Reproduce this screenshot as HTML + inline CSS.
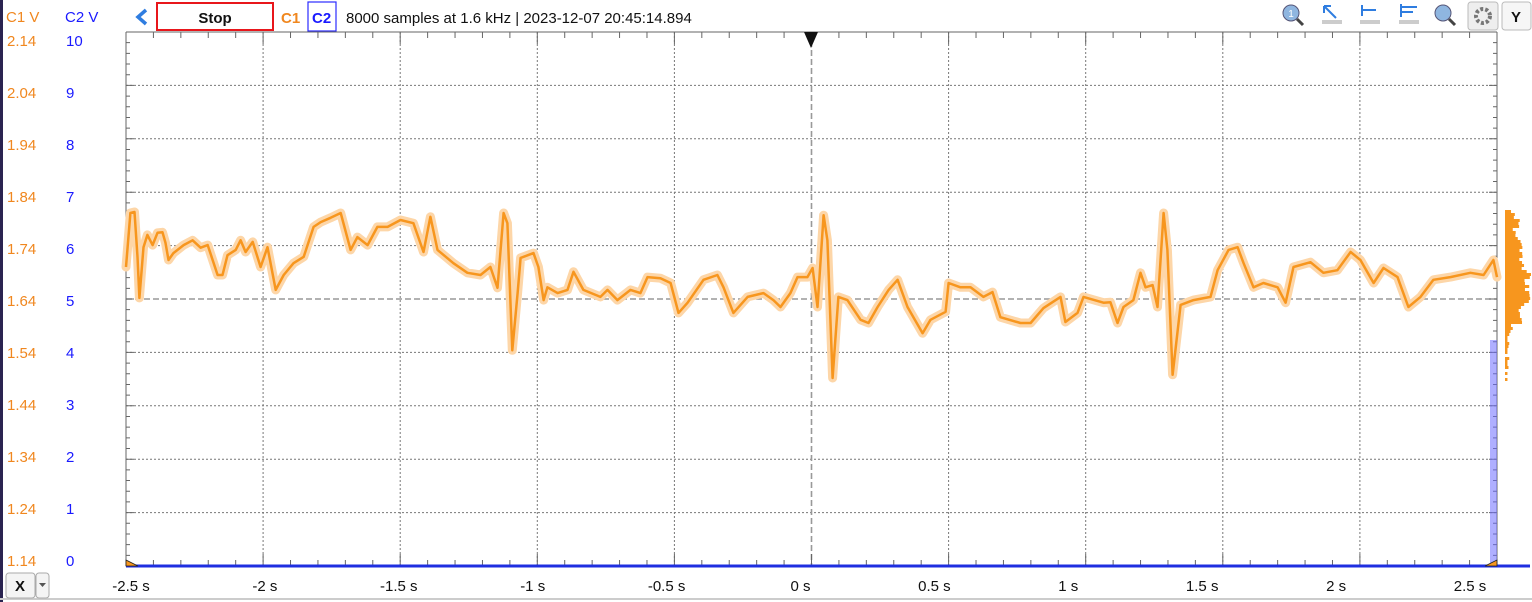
<!DOCTYPE html>
<html><head><meta charset="utf-8">
<style>
html,body{margin:0;padding:0;background:#fff;width:1532px;height:602px;overflow:hidden;font-family:"Liberation Sans",sans-serif}
svg{display:block}
</style></head>
<body>
<svg id="chart" width="1532" height="602" viewBox="0 0 1532 602">
  <rect x="0" y="0" width="1532" height="602" fill="#fff"/>
  <rect x="0" y="0" width="3" height="602" fill="#2a2350"/>
  <line x1="0" y1="599" x2="1532" y2="599" stroke="#ccc" stroke-width="2"/>
  <g>
    <text x="6" y="22" font-size="15" fill="#f0871f">C1 V</text>
    <text x="65" y="22" font-size="15" fill="#1a1aff">C2 V</text>
    <path d="M146 10 L138 17 L146 24" fill="none" stroke="#2f7de0" stroke-width="3.5"/>
    <rect x="157" y="3" width="116" height="27" fill="#fff" stroke="#e8161b" stroke-width="2"/>
    <text x="215" y="23" font-size="15" font-weight="bold" text-anchor="middle" fill="#111">Stop</text>
    <text x="281" y="23" font-size="15" font-weight="bold" fill="#f0871f">C1</text>
    <rect x="308" y="2" width="28" height="29" fill="#fff" stroke="#2b2bff" stroke-width="1.2"/>
    <text x="312" y="23" font-size="15" font-weight="bold" fill="#1a1aff">C2</text>
    <text x="346" y="23" font-size="15" fill="#111">8000 samples at 1.6 kHz | 2023-12-07 20:45:14.894</text>
    <g><circle cx="1291" cy="13" r="8" fill="#8fb6e0" stroke="#557" stroke-width="1"/><line x1="1297" y1="19" x2="1303" y2="25" stroke="#444" stroke-width="3"/><text x="1291" y="17" font-size="10" text-anchor="middle" fill="#fff">1</text></g>
    <g><path d="M1324 6 L1336 18 M1324 6 L1324 13 M1324 6 L1331 6" stroke="#2f7de0" stroke-width="2" fill="none"/><rect x="1322" y="20" width="20" height="4" fill="#ccc"/></g>
    <g><path d="M1362 5 L1362 16 M1362 10 L1376 10" stroke="#2f7de0" stroke-width="2" fill="none"/><rect x="1360" y="20" width="20" height="4" fill="#ccc"/></g>
    <g><path d="M1401 4 L1401 17 M1401 7 L1417 7 M1401 12 L1413 12" stroke="#2f7de0" stroke-width="2" fill="none"/><rect x="1399" y="20" width="20" height="4" fill="#ccc"/></g>
    <g><circle cx="1443" cy="13" r="8" fill="#8fb6e0" stroke="#557" stroke-width="1"/><line x1="1449" y1="19" x2="1455" y2="25" stroke="#444" stroke-width="3"/></g>
    <rect x="1468" y="2" width="30" height="28" rx="3" fill="#eee" stroke="#bbb"/>
    <circle cx="1483" cy="16" r="7" fill="none" stroke="#777" stroke-width="4" stroke-dasharray="3 2"/>
    <rect x="1502" y="2" width="29" height="28" rx="3" fill="#f6f6f6" stroke="#bbb"/>
    <text x="1516" y="22" font-size="15" font-weight="bold" text-anchor="middle" fill="#111">Y</text>
  </g>
  <g id="grid"></g>
  <g id="axes"></g>
  <g id="series"></g>
  <g id="hist"></g>
  <path d="M804 32 L818 32 L811 48 Z" fill="#111"/>
  <g>
    <rect x="6" y="573" width="29" height="25" rx="3" fill="#f4f4f4" stroke="#aaa"/>
    <text x="20" y="591" font-size="15" font-weight="bold" text-anchor="middle" fill="#111">X</text>
    <rect x="36" y="573" width="13" height="25" rx="3" fill="#f4f4f4" stroke="#aaa"/>
    <path d="M39 583 L46 583 L42.5 587 Z" fill="#555"/>
  </g>
</svg>
<script>
const xTicks = [-2.5,-2,-1.5,-1,-0.5,0,0.5,1,1.5,2,2.5];
const xTickLabels = ["-2.5 s","-2 s","-1.5 s","-1 s","-0.5 s","0 s","0.5 s","1 s","1.5 s","2 s","2.5 s"];
const c1Labels = ["2.14","2.04","1.94","1.84","1.74","1.64","1.54","1.44","1.34","1.24","1.14"];
const c2Labels = ["10","9","8","7","6","5","4","3","2","1","0"];
const c1Times = [-2.5,-2.484,-2.469,-2.458,-2.451,-2.436,-2.422,-2.403,-2.385,-2.367,-2.356,-2.345,-2.327,-2.29,-2.257,-2.228,-2.202,-2.166,-2.148,-2.13,-2.1,-2.082,-2.064,-2.038,-2.009,-1.984,-1.954,-1.925,-1.889,-1.852,-1.816,-1.79,-1.754,-1.717,-1.681,-1.656,-1.619,-1.583,-1.546,-1.499,-1.452,-1.415,-1.39,-1.364,-1.306,-1.255,-1.207,-1.171,-1.145,-1.123,-1.109,-1.091,-1.072,-1.061,-1.014,-0.996,-0.977,-0.963,-0.926,-0.89,-0.868,-0.832,-0.77,-0.744,-0.708,-0.66,-0.624,-0.598,-0.551,-0.514,-0.485,-0.452,-0.394,-0.343,-0.321,-0.285,-0.233,-0.175,-0.139,-0.113,-0.077,-0.051,-0.015,0.004,0.022,0.044,0.058,0.077,0.098,0.131,0.179,0.208,0.241,0.281,0.314,0.35,0.405,0.434,0.489,0.5,0.543,0.58,0.627,0.66,0.689,0.762,0.799,0.846,0.908,0.926,0.97,0.992,1.065,1.09,1.116,1.138,1.174,1.2,1.218,1.244,1.262,1.284,1.298,1.317,1.346,1.393,1.455,1.481,1.521,1.554,1.576,1.612,1.648,1.7,1.729,1.758,1.82,1.867,1.918,1.966,2.002,2.05,2.086,2.137,2.177,2.221,2.268,2.33,2.403,2.451,2.487,2.5];
const c1Volts = [1.700,1.801,1.803,1.719,1.642,1.737,1.760,1.741,1.764,1.765,1.745,1.713,1.726,1.741,1.750,1.736,1.741,1.685,1.685,1.722,1.732,1.750,1.728,1.747,1.700,1.737,1.657,1.685,1.707,1.719,1.775,1.784,1.792,1.801,1.732,1.756,1.741,1.775,1.775,1.788,1.782,1.728,1.794,1.732,1.707,1.689,1.685,1.700,1.661,1.801,1.782,1.544,1.651,1.717,1.726,1.700,1.638,1.662,1.651,1.657,1.691,1.657,1.644,1.657,1.638,1.657,1.651,1.681,1.679,1.670,1.614,1.633,1.676,1.685,1.662,1.614,1.644,1.651,1.638,1.625,1.651,1.681,1.681,1.698,1.625,1.797,1.750,1.492,1.644,1.638,1.601,1.595,1.625,1.657,1.676,1.625,1.576,1.601,1.616,1.670,1.662,1.662,1.644,1.653,1.606,1.595,1.595,1.623,1.644,1.597,1.614,1.644,1.633,1.634,1.595,1.625,1.638,1.689,1.662,1.666,1.625,1.801,1.732,1.498,1.629,1.638,1.644,1.694,1.732,1.737,1.707,1.662,1.670,1.662,1.633,1.700,1.709,1.689,1.694,1.728,1.713,1.670,1.698,1.681,1.625,1.644,1.676,1.681,1.689,1.685,1.713,1.681];

const L=126,R=1497,T=32,B=566;
const xs = t => L + (t+2.5)/5*(R-L);
const yv = v => T + (2.14-v)/1.0*(B-T);
const NS='http://www.w3.org/2000/svg';
function mk(tag,attrs,parent){const e=document.createElementNS(NS,tag);for(const k in attrs)e.setAttribute(k,attrs[k]);parent.appendChild(e);return e;}
const grid=document.getElementById('grid'), axes=document.getElementById('axes'), series=document.getElementById('series'), hist=document.getElementById('hist');

for(let i=0;i<c1Labels.length;i++){
  const y=T+i*(B-T)/10;
  if(i>0&&i<10){
    const g=mk('line',{x1:L,x2:R,y1:y,y2:y,stroke:i===5?'#999':'#777','stroke-width':i===5?1.6:1,'stroke-dasharray':i===5?'6 3':'2 2'},grid);
    
    
  }
  const ly=41+52*i+5;
  const a=mk('text',{x:7,y:ly,'font-size':15,fill:'#f0871f'},axes);a.textContent=c1Labels[i];
  
  
  const b=mk('text',{x:66,y:ly,'font-size':15,fill:'#1a1aff'},axes);b.textContent=c2Labels[i];
  
  
}
for(let i=0;i<xTicks.length;i++){
  const x=xs(xTicks[i]);
  if(i>0&&i<xTicks.length-1){
    const g=mk('line',{x1:x,x2:x,y1:T,y2:B,stroke:xTicks[i]===0?'#999':'#777','stroke-width':xTicks[i]===0?1.6:1,'stroke-dasharray':xTicks[i]===0?'6 3':'2 2'},grid);
    
    
  }
  const t=mk('text',{x:x+5-3.2*i,y:591,'font-size':15,fill:'#111','text-anchor':'middle'},axes);t.textContent=xTickLabels[i];
  
  
}
let d='';
for(let k=0;k<=50;k++){const x=L+k*(R-L)/50;const len=k%5===0?12:6;d+=`M${x} ${T}v${len}M${x} ${B}v-${len}`;}
for(let k=0;k<=50;k++){const y=T+k*(B-T)/50;const len=k%5===0?8:4;d+=`M${L} ${y}h${len}M${R} ${y}h-${len}`;}
const tk=mk('path',{d:d,stroke:'#666','stroke-width':1,fill:'none'},axes);


const fr=mk('path',{d:`M${L} ${T}V${B}M${R} ${T}V${B}M${L} ${T}H${R}`,stroke:'#666','stroke-width':1,fill:'none'},axes);



const c2=mk('line',{x1:L,x2:1530,y1:B,y2:B,stroke:'#1f2fe0','stroke-width':3},series);


const c2b=mk('rect',{x:1490,y:340,width:7,height:226,fill:'#6d6dff',opacity:0.55},series);



let pd='';
for(let i=0;i<c1Times.length;i++){pd+=(i?'L':'M')+xs(c1Times[i]).toFixed(1)+' '+yv(c1Volts[i]).toFixed(1);}
const band=mk('path',{d:pd,stroke:'#fdd6a8','stroke-width':9,fill:'none','stroke-linejoin':'round','stroke-linecap':'round'},series);


const line=mk('path',{d:pd,stroke:'#f7961e','stroke-width':2.5,fill:'none','stroke-linejoin':'round'},series);



const m1=mk('path',{d:`M${L} ${B-6} L${L+12} ${B} L${L} ${B} Z`,fill:'#f7961e',stroke:'#222','stroke-width':0.8},series);


const m2=mk('path',{d:`M${R} ${B-6} L${R-12} ${B} L${R} ${B} Z`,fill:'#f7961e',stroke:'#222','stroke-width':0.8},series);



const binH=3, counts={};
for(let i=0;i<c1Times.length-1;i++){
  const n=Math.max(1,Math.round((c1Times[i+1]-c1Times[i])*400));
  for(let s=0;s<n;s++){const v=c1Volts[i]+(c1Volts[i+1]-c1Volts[i])*s/n;const b=Math.floor(yv(v)/binH);counts[b]=(counts[b]||0)+1;}
}
const maxC=Math.max(...Object.values(counts));
for(const b in counts){
  const w=Math.max(2,Math.sqrt(counts[b]/maxC)*26);
  const r=mk('rect',{x:1505,y:b*binH,width:w,height:binH,fill:'#f7961e'},hist);
  
  
}
</script>
</body></html>
